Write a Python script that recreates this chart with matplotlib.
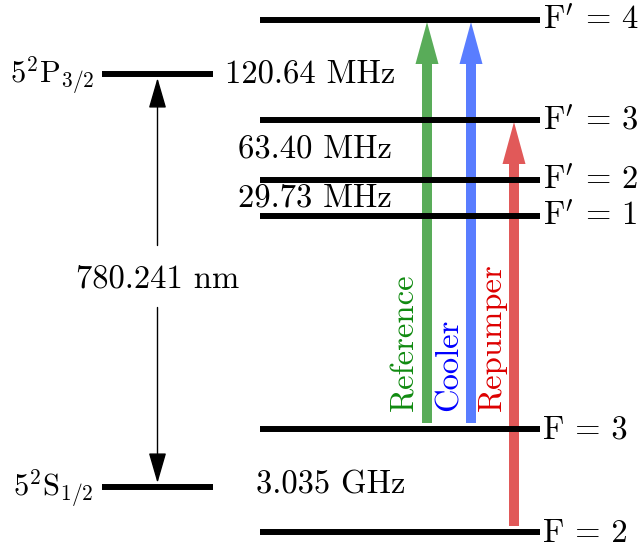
import matplotlib
matplotlib.use("Agg")
import matplotlib.pyplot as plt

plt.rcParams['font.family'] = 'serif'
plt.rcParams['font.serif'] = ['cmr10']
plt.rcParams['mathtext.fontset'] = 'cm'
plt.rcParams['axes.formatter.use_mathtext'] = True

# hyperfine levels (vertical position on the diagram, top = 0)
hf_labels = [r"$\mathrm{F'}$ = 4", r"$\mathrm{F'}$ = 3", r"$\mathrm{F'}$ = 2",
             r"$\mathrm{F'}$ = 1", "F = 3", "F = 2"]
hf_y = [20, 120, 180, 216, 429, 532]
hf_x = (260, 540)

# fine-structure levels
fs_labels = [r"$5^2\mathrm{P}_{3/2}$", r"$5^2\mathrm{S}_{1/2}$"]
fs_y = [74, 487]
fs_x = (102, 213)

# splittings
split_labels = ["120.64 MHz", "63.40 MHz", "29.73 MHz", "3.035 GHz"]
split_x = [310, 315, 315, 331]
split_y = [74, 149, 198, 485]

wavelength = "780.241 nm"

# lasers: name, x, from level, to level, arrow colour, text colour
laser_names = ["Reference", "Cooler", "Repumper"]
laser_x = [427, 471, 514]
laser_from = ["F = 3", "F = 3", "F = 2"]
laser_to = [hf_labels[0], hf_labels[0], hf_labels[1]]
laser_colors = [(0, 0.5, 0), (0, 0.22, 1.0), (0.82, 0, 0)]
laser_text = ["#108a10", "#0000ff", "#dd0000"]

fig = plt.figure(figsize=(6.4, 5.48), dpi=100)
ax = fig.add_axes([0, 0, 1, 1])
ax.set_xlim(0, 640)
ax.set_ylim(548, 0)
ax.axis('off')

fs = 23.5
lw = 4.3

for lab, y in zip(hf_labels, hf_y):
    ax.plot(hf_x, [y, y], color='k', lw=lw, solid_capstyle='butt')
    ax.text(hf_x[1] + 3, y + 1, lab, fontsize=fs, ha='left', va='center')

for lab, y in zip(fs_labels, fs_y):
    ax.plot(fs_x, [y, y], color='k', lw=lw, solid_capstyle='butt')
    ax.text(fs_x[0] - 8, y + 2, lab, fontsize=22, ha='right', va='center')

for lab, x, y in zip(split_labels, split_x, split_y):
    ax.text(x, y, lab, fontsize=fs, ha='center', va='center')

# optical transition
xm = (fs_x[0] + fs_x[1]) / 2
ym = (fs_y[0] + fs_y[1]) / 2 - 2
ax.text(xm, ym, wavelength, fontsize=fs, ha='center', va='center')
style = '-|>,head_length=1.9,head_width=0.55'
ax.annotate("", xy=(xm, fs_y[0] + 4), xytext=(xm, ym - 33),
            arrowprops=dict(arrowstyle=style, mutation_scale=10, lw=1, color='k',
                            shrinkA=0, shrinkB=0))
ax.annotate("", xy=(xm, fs_y[1] - 4), xytext=(xm, ym + 29),
            arrowprops=dict(arrowstyle=style, mutation_scale=10, lw=1, color='k',
                            shrinkA=0, shrinkB=0))

lvl = dict(zip(hf_labels, hf_y))
for name, x, a, b, c, tc in zip(laser_names, laser_x, laser_from, laser_to,
                                laser_colors, laser_text):
    y0 = lvl[a] - 6
    y1 = lvl[b] + 2
    ax.arrow(x, y0, 0, y1 - y0, width=10, head_width=23, head_length=42,
             length_includes_head=True, color=c, alpha=0.65, lw=0)
    ax.text(x - 22, 411, name, fontsize=fs, color=tc, rotation=90,
            ha='center', va='bottom')

fig.savefig("out.png", dpi=100)
